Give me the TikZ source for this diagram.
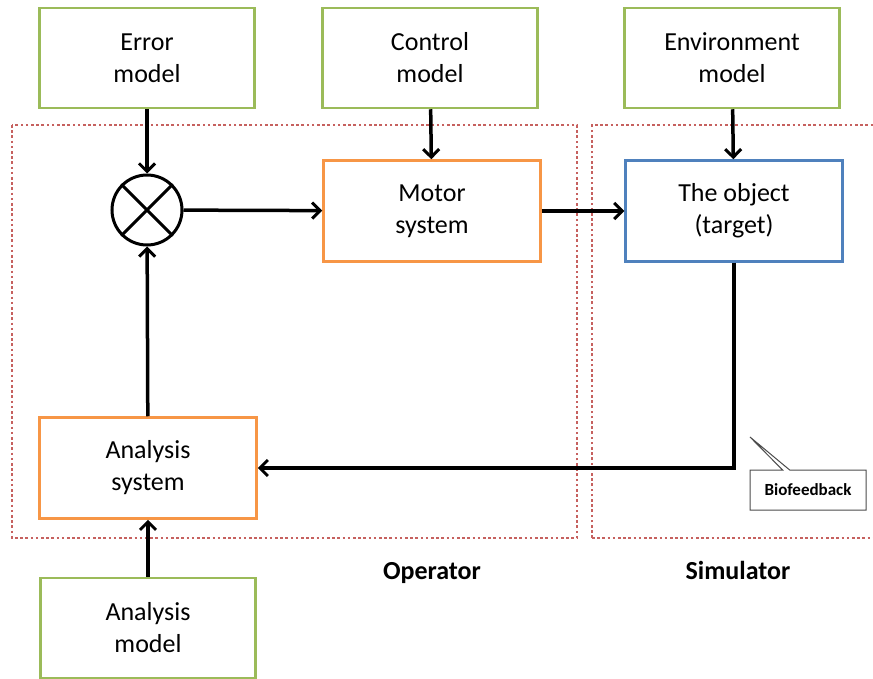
\documentclass[tikz,border=0pt]{standalone}
\usepackage{fontspec}
\setmainfont{Carlito}
\usepackage{tikz}
\usetikzlibrary{positioning, arrows.meta, shapes.callouts}

\definecolor{modelgreen}{HTML}{9BBB59}
\definecolor{sysorange}{HTML}{F79646}
\definecolor{objblue}{HTML}{4F81BD}
\definecolor{zonered}{HTML}{C0504D}

\begin{document}
\begin{tikzpicture}[
    x=1pt, y=-1pt,
    every node/.style={font=\fontsize{26}{32}\selectfont, align=center},
    model/.style={rectangle, draw=modelgreen, line width=2.5pt, fill=white, minimum width=215pt, minimum height=100pt},
    system/.style={rectangle, draw=sysorange, line width=2.5pt, fill=white, minimum width=217pt, minimum height=101pt},
    target/.style={rectangle, draw=objblue, line width=2.5pt, fill=white, minimum width=217pt, minimum height=101pt},
    zone/.style={draw=zonered!90, line width=2.6pt, dash pattern=on 2.6pt off 2.6pt},
    flow/.style={-{Straight Barb[length=8pt, width=16pt, line width=3pt]}, line width=3.5pt},
    zone_label/.style={font=\fontsize{26}{32}\selectfont\bfseries, anchor=base}
]
\useasboundingbox (0,0) rectangle (873,679);

% Zones
\draw[zone] (12,125) rectangle (577,538);
\draw[zone] (592,538) -- (592,125) -- (880,125);
\draw[zone] (592,538) -- (880,538);

% Nodes
\node[model] (err) at (147,58) {Error\\model};
\node[model] (ctrl) at (430,58) {Control\\model};
\node[model] (env) at (732,58) {Environment\\model};
\node[circle, draw, line width=3pt, minimum size=70pt, inner sep=0pt] (mix) at (147,210) {};
\draw[line width=3pt] (mix.45) -- (mix.225) (mix.135) -- (mix.315);
\node[system] (motor) at (432,211) {Motor\\system};
\node[target] (obj) at (734,211) {The object\\(target)};
\node[system] (ana) at (148,468) {Analysis\\system};
\node[model] (amod) at (148,628) {Analysis\\model};
\coordinate (bend) at (obj.south |- ana.east);

% Edges
\draw[flow] (err) -- (mix);
\draw[flow] (ctrl) -- (motor);
\draw[flow] (env) -- (obj);
\draw[flow] (mix) -- (motor);
\draw[flow] (motor) -- (obj);
\draw[flow] (ana) -- (mix);
\draw[flow] (amod) -- (ana);
\draw[flow] (obj.south) -- (bend) -- (ana.east);

% Labels
\node[rectangle callout, draw=black!70, fill=white, line width=1pt, font=\fontsize{17}{20}\selectfont\bfseries, minimum width=116pt, minimum height=40pt, callout absolute pointer={(750,437)}] (bio) at (808,490) {Biofeedback};
\node[zone_label] (op) at (432,579) {Operator};
\node[zone_label] (sim) at (738,579) {Simulator};

\end{tikzpicture}
\end{document}
